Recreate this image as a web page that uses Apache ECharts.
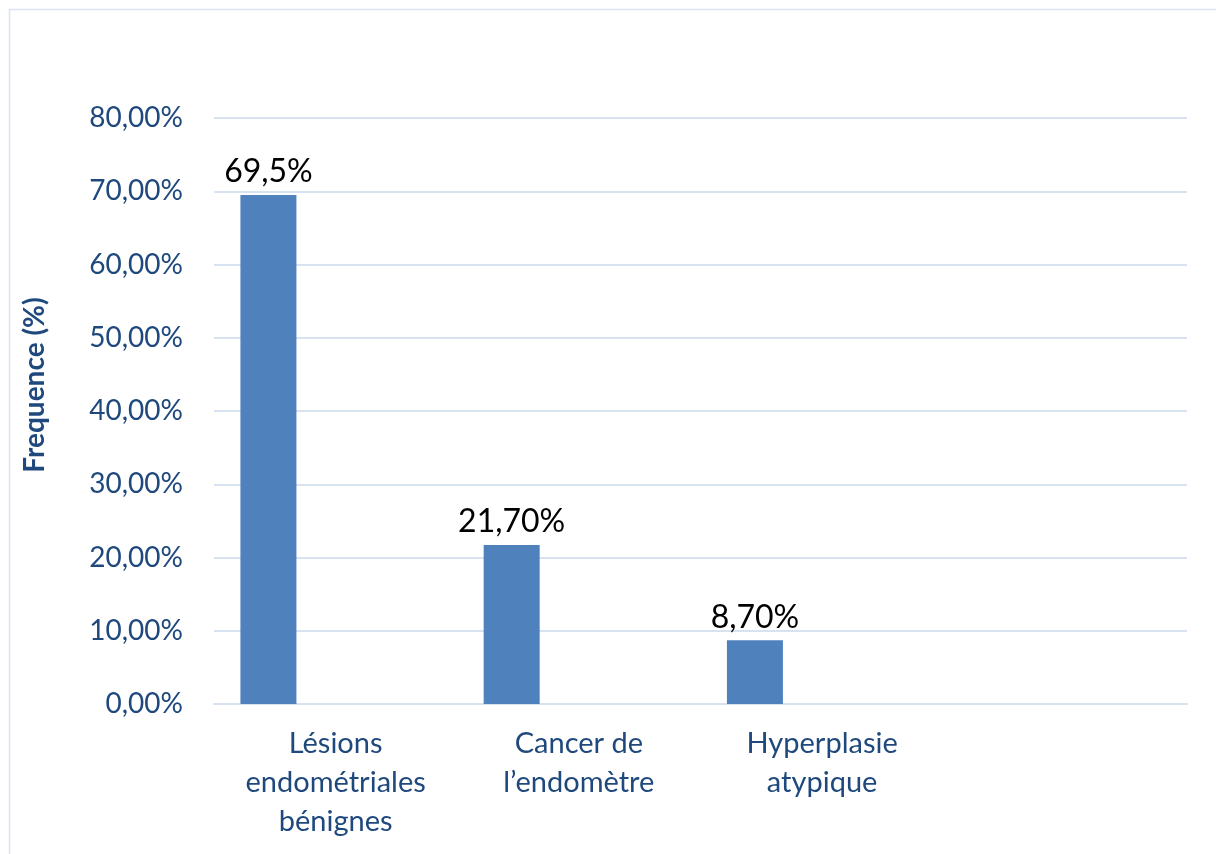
<!DOCTYPE html>
<html>
<head>
<meta charset="utf-8">
<script src="https://cdn.jsdelivr.net/npm/echarts@6/dist/echarts.min.js"></script>
<style>
  html, body { margin: 0; padding: 0; background: #fff; }
  #chart { width: 1216px; height: 854px; }
</style>
</head>
<body>
<div id="chart"></div>
<script>
// Categories (the last slot is left empty, as in the workbook layout)
const categories = ['Lésions\nendométriales\nbénignes', 'Cancer de\nl\u2019endomètre', 'Hyperplasie\natypique', ''];
// Frequencies in percent
const frequencies = [69.5, 21.7, 8.7, null];
// Decimals shown in each data label
const labelDecimals = [1, 2, 2, 2];
// Y axis range / step
const yMin = 0, yMax = 80, yStep = 10;

const FONT = 'Lato, "Open Sans", sans-serif';
const AXIS_COLOR = '#1F497D';
const GRID_COLOR = '#D9E2F1';
const BAR_COLOR = '#4F81BD';

const fmtPct = (v, d) => v.toFixed(d).replace('.', ',') + '%';

const chart = echarts.init(document.getElementById('chart'));
chart.setOption({
  animation: false,
  backgroundColor: '#fff',
  grid: { left: 214, right: 29, top: 118, bottom: 150, containLabel: false },
  graphic: [
    {
      type: 'rect',
      shape: { x: 9.5, y: 9.5, width: 1240, height: 880 },
      style: { fill: 'none', stroke: GRID_COLOR, lineWidth: 1.5 },
      silent: true, z: -1
    },
    {
      type: 'text',
      x: 35, y: 385,
      rotation: Math.PI / 2,
      style: {
        text: 'Frequence (%)',
        fill: AXIS_COLOR,
        font: 'bold 28px ' + FONT,
        align: 'center',
        verticalAlign: 'middle'
      }
    }
  ],
  xAxis: {
    type: 'category',
    data: categories,
    axisLine: { show: true, lineStyle: { color: GRID_COLOR, width: 2 } },
    axisTick: { show: false },
    axisLabel: {
      interval: 0,
      color: AXIS_COLOR,
      fontFamily: FONT,
      fontSize: 29,
      lineHeight: 39,
      margin: 20,
      align: 'center'
    },
    splitLine: { show: false }
  },
  yAxis: {
    type: 'value',
    min: yMin, max: yMax, interval: yStep,
    axisLine: { show: false },
    axisTick: { show: false },
    axisLabel: {
      color: AXIS_COLOR,
      fontFamily: FONT,
      fontSize: 28,
      margin: 31,
      formatter: v => fmtPct(v, 2)
    },
    splitLine: { lineStyle: { color: GRID_COLOR, width: 2 } }
  },
  series: [
    {
      type: 'bar',
      data: frequencies,
      barWidth: 56,
      barGap: '140%',
      itemStyle: { color: BAR_COLOR },
      label: {
        show: true,
        position: 'top',
        distance: 7,
        color: '#000',
        fontFamily: FONT,
        fontSize: 32,
        formatter: p => fmtPct(p.value, labelDecimals[p.dataIndex])
      }
    },
    {
      type: 'bar',
      data: [null, null, null, null],
      barWidth: 56,
      itemStyle: { color: BAR_COLOR }
    }
  ]
});
</script>
</body>
</html>
